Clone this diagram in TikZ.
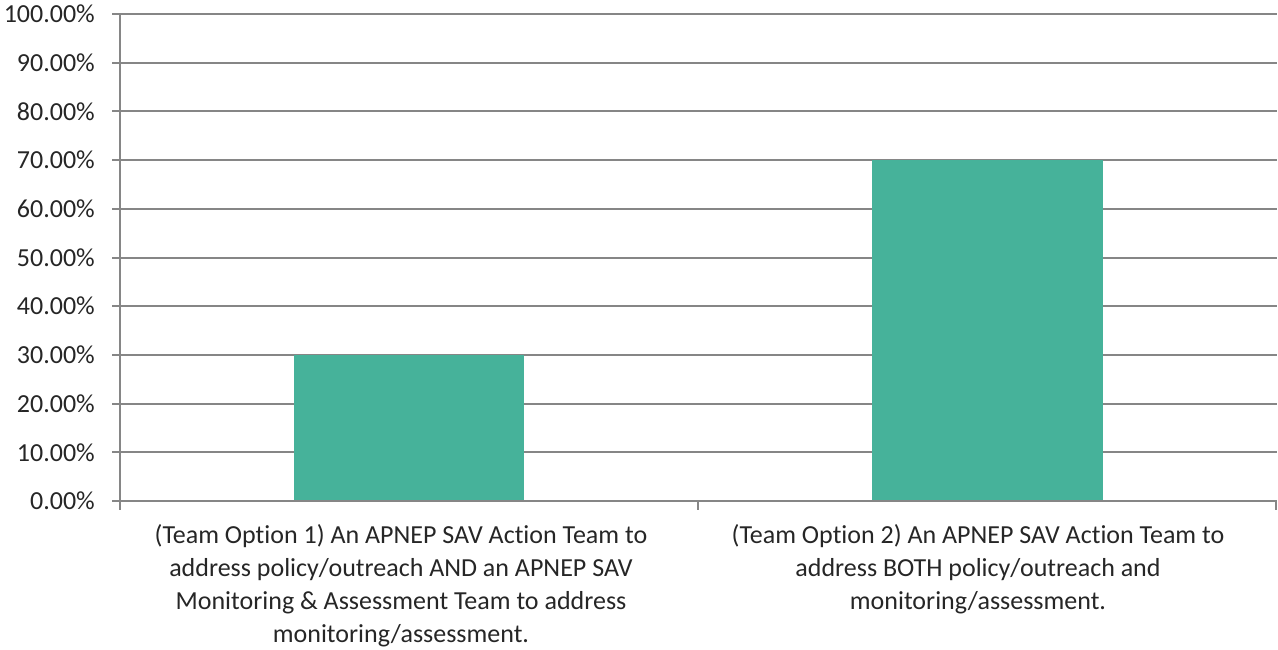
\documentclass[tikz,border=0pt]{standalone}
\usepackage{fontspec}
\setmainfont{Carlito}[Ligatures={NoCommon}]
\definecolor{gridgray}{RGB}{134,134,134}
\definecolor{barteal}{RGB}{70,178,154}
\begin{document}
\begin{tikzpicture}[x=1pt,y=-1pt,font=\fontsize{26}{33}\selectfont]
\useasboundingbox (0,0) rectangle (1278,650);
\tikzset{gridline/.style={gridgray,line width=2pt},
  ticklabel/.style={anchor=east,inner sep=0pt,text=black!85}}
% grid and y labels
\foreach \i/\t in {0/0.00,1/10.00,2/20.00,3/30.00,4/40.00,5/50.00,6/60.00,7/70.00,8/80.00,9/90.00,10/100.00}{
  \draw[gridline] (112,{501-48.7*\i})--(1277,{501-48.7*\i});
  \node[ticklabel] (y\i) at (95,{501-48.7*\i}) {\t\%};
}
% bars
\fill[barteal] (294,501) rectangle (524,{501-48.7*3});
\fill[barteal] (872,501) rectangle (1103,{501-48.7*7});
% axes
\draw[gridline] (120,14)--(120,510);
\draw[gridline] (112,501)--(1277,501);
\draw[gridline] (698,501)--(698,510);
\draw[gridline] (1276,501)--(1276,510);
% category labels
\node[anchor=north,align=center,inner sep=0pt,text=black!85] (cat1) at (401,524)
  {(Team Option 1) An APNEP SAV Action Team to\\address policy/outreach AND an APNEP SAV\\Monitoring \& Assessment Team to address\\monitoring/assessment.};
\node[anchor=north,align=center,inner sep=0pt,text=black!85] (cat2) at (978,524)
  {(Team Option 2) An APNEP SAV Action Team to\\address BOTH policy/outreach and\\monitoring/assessment.};
\end{tikzpicture}
\end{document}
